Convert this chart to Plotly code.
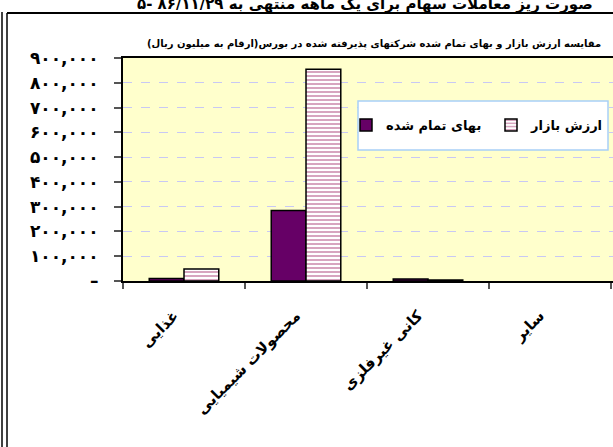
import plotly.graph_objects as go

categories = ["غذایی", "محصولات شیمیایی", "کانی غیرفلزی", "سایر"]
cost_values = [10000, 285000, 8000, 0]          # بهای تمام شده
market_values = [48000, 855000, 4000, 0]        # ارزش بازار
series_names = ["بهای تمام شده", "ارزش بازار"]
y_tick_values = [0, 100000, 200000, 300000, 400000, 500000, 600000, 700000, 800000, 900000]
y_tick_labels = ["–", "۱۰۰,۰۰۰", "۲۰۰,۰۰۰", "۳۰۰,۰۰۰", "۴۰۰,۰۰۰", "۵۰۰,۰۰۰",
                 "۶۰۰,۰۰۰", "۷۰۰,۰۰۰", "۸۰۰,۰۰۰", "۹۰۰,۰۰۰"]
chart_title = "مقایسه ارزش بازار و بهای تمام شده شرکتهای پذیرفته شده در بورس(ارقام به میلیون ریال)"
page_title = "۵- صورت ریز معاملات سهام برای یک ماهه منتهی به ۸۶/۱۱/۲۹"

W, H = 613, 447
L, T, R, B = 123, 58, 0, 166
PW = W - L - R
PH = H - T - B

def px(x):
    return (x - L) / PW

def py(y):
    return (H - B - y) / PH

FONT = "DejaVu Sans"

def outline(vals):
    return [0 if v == 0 else 1.5 for v in vals]

fig = go.Figure()
fig.add_trace(go.Bar(
    x=categories, y=cost_values, name=series_names[0],
    marker=dict(color="#660066", line=dict(color="black", width=outline(cost_values))),
))
fig.add_trace(go.Bar(
    x=categories, y=market_values, name=series_names[1],
    marker=dict(color="white", line=dict(color="black", width=outline(market_values)),
                pattern=dict(shape="-", fgcolor="#B04C80", bgcolor="white",
                             size=4, solidity=0.5, fillmode="overlay")),
))

shapes = [
    # legend box
    dict(type="rect", xref="paper", yref="paper", layer="above",
         x0=px(358), x1=px(608), y0=py(150), y1=py(101),
         fillcolor="white", line=dict(color="#A8D0F8", width=1.5)),
    # page frame lines
    dict(type="line", xref="paper", yref="paper", x0=px(7), x1=px(620), y0=py(13), y1=py(13),
         line=dict(color="black", width=2)),
    dict(type="line", xref="paper", yref="paper", x0=px(2), x1=px(2), y0=py(12), y1=py(450),
         line=dict(color="black", width=1.5)),
    dict(type="line", xref="paper", yref="paper", x0=px(7), x1=px(7), y0=py(13), y1=py(450),
         line=dict(color="black", width=1.5)),
]

annotations = [
    dict(text=chart_title, xref="paper", yref="paper", x=px(374), y=py(44),
         xanchor="center", yanchor="middle", showarrow=False,
         font=dict(family=FONT, size=10, color="black", weight="bold")),
    dict(text=page_title, xref="paper", yref="paper", x=px(365), y=py(15),
         xanchor="center", yanchor="bottom", showarrow=False,
         font=dict(family=FONT, size=15, color="black", weight="bold")),
]

fig.update_layout(
    width=W, height=H,
    margin=dict(l=L, r=R, t=T, b=B, autoexpand=False),
    paper_bgcolor="white",
    plot_bgcolor="#FFFFCC",
    barmode="group", bargap=0.43, bargroupgap=0,
    showlegend=True,
    legend=dict(orientation="h", x=px(346), y=py(125), xanchor="left", yanchor="middle",
                bgcolor="rgba(0,0,0,0)", borderwidth=0, entrywidth=100,
                font=dict(family=FONT, size=13, color="black", weight="bold"),
                traceorder="normal"),
    shapes=shapes,
    annotations=annotations,
    xaxis=dict(
        range=[-0.5, 3.5 + 2 / 123.0],
        showline=True, linecolor="black", linewidth=2, mirror=True,
        ticks="outside", tickson="boundaries", ticklen=6, tickcolor="#555555", tickwidth=1.5,
        tickangle=-45, showgrid=False,
        tickfont=dict(family=FONT, size=15, color="black", weight="bold"),
        ticklabelstandoff=18, ticklabelshift=-10,
    ),
    yaxis=dict(
        range=[0, 900000],
        tickvals=y_tick_values, ticktext=y_tick_labels,
        showline=True, linecolor="black", linewidth=2,
        ticks="outside", ticklen=7, tickcolor="#555555", tickwidth=1.5,
        showgrid=True, gridcolor="#C8C8F4", griddash="dash", gridwidth=1,
        zeroline=False,
        tickfont=dict(family=FONT, size=17, color="black", weight="bold"),
        ticklabelstandoff=12,
    ),
    font=dict(family=FONT),
)

fig.write_html("out.html", config={"displayModeBar": False},
               post_script="document.body.style.margin='0px';")
